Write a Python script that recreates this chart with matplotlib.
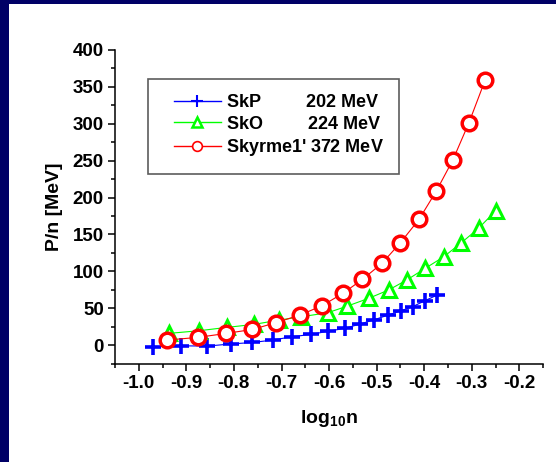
import matplotlib
matplotlib.use("Agg")
from matplotlib import pyplot as plt
from matplotlib.legend_handler import HandlerLine2D
from matplotlib.lines import Line2D
from matplotlib.patches import Rectangle
from matplotlib.ticker import MultipleLocator, FormatStrFormatter

plt.rcParams['font.family'] = ['Liberation Sans', 'DejaVu Sans']
plt.rcParams['font.weight'] = 'bold'
plt.rcParams['axes.unicode_minus'] = False
plt.rcParams['mathtext.fontset'] = 'custom'
plt.rcParams['mathtext.rm'] = 'Liberation Sans:bold'
plt.rcParams['mathtext.it'] = 'Liberation Sans:bold'
plt.rcParams['mathtext.bf'] = 'Liberation Sans:bold'
plt.rcParams['mathtext.default'] = 'regular'

# values
skp_x = [-0.970, -0.912, -0.856, -0.806, -0.761, -0.718, -0.678, -0.637, -0.602,
         -0.567, -0.535, -0.505, -0.476, -0.449, -0.424, -0.399, -0.373]
skp_y = [-2.3, -1.0, -1.4, 1.5, 3.5, 6.8, 11.3, 14.5, 18.8,
         22.6, 28.5, 34.3, 40.7, 46.5, 52.2, 60.0, 67.8]

sko_x = [-0.937, -0.874, -0.814, -0.758, -0.705, -0.658, -0.603, -0.563,
         -0.517, -0.475, -0.437, -0.398, -0.359, -0.322, -0.286, -0.250]
sko_y = [15.8, 19.4, 24.0, 28.0, 33.9, 38.4, 43.8, 52.5,
         63.3, 74.6, 88.1, 104.0, 119.7, 138.7, 158.2, 182.0]

sky_x = [-0.940, -0.876, -0.816, -0.761, -0.712, -0.661, -0.615, -0.571,
         -0.530, -0.489, -0.450, -0.411, -0.375, -0.340, -0.306, -0.272]
sky_y = [6.8, 10.4, 15.8, 21.2, 30.3, 40.7, 53.3, 70.1,
         89.0, 110.7, 138.8, 170.4, 208.4, 250.8, 301.5, 359.3]

names = ["SkP", "SkO", "Skyrme1'"]
moduli = ["202 MeV", "224 MeV", "372 MeV"]
gaps = ["         ", "         ", " "]
# trailing thin math spaces keep some room on the right of the legend box
labels = [n + g + m + r"$\;\;\;\;$" for n, g, m in zip(names, gaps, moduli)]

navy = "#000066"

fig = plt.figure(figsize=(5.56, 4.62), dpi=100, facecolor=navy)
# white page inside the navy frame (left and top edges only)
fig.patches.append(Rectangle((9 / 556, 0), 1, 1 - 4 / 462, transform=fig.transFigure,
                             facecolor="white", edgecolor="none", zorder=-10))

ax = fig.add_axes([0.2068, 0.2132, 0.7702, 0.6786])
ax.set_facecolor("white")

ax.plot(skp_x, skp_y, color="#0000ff", lw=0.8, marker="+", ms=11, mew=2.6)
ax.plot(sko_x, sko_y, color="#00ff00", lw=0.8, marker="^", ms=10.5, mew=2.2,
        mfc="white", mec="#00ff00")
ax.plot(sky_x, sky_y, color="#ff0000", lw=0.8, marker="o", ms=10.5, mew=2.5,
        mfc="white", mec="#ff0000")

ax.set_xlim(-1.05, -0.15)
ax.set_ylim(-25, 400)
ax.xaxis.set_major_locator(MultipleLocator(0.1))
ax.xaxis.set_minor_locator(MultipleLocator(0.05))
ax.yaxis.set_major_locator(MultipleLocator(50))
ax.yaxis.set_minor_locator(MultipleLocator(25))
ax.xaxis.set_major_formatter(FormatStrFormatter('%.1f'))

for side in ("top", "right"):
    ax.spines[side].set_visible(False)
for side in ("left", "bottom"):
    ax.spines[side].set_linewidth(1.1)

ax.tick_params(which="major", direction="out", length=5, width=1.1,
               labelsize=13.5, pad=3)
ax.tick_params(which="minor", direction="out", length=3, width=1.1)
for lab in ax.get_xticklabels() + ax.get_yticklabels():
    lab.set_fontweight("bold")

ax.set_xlabel("log$_{10}$n", fontsize=14, fontweight="bold", labelpad=12)
ax.set_ylabel("P/n [MeV]", fontsize=14, fontweight="bold", labelpad=7)

handles = [
    Line2D([], [], color="#0000ff", lw=1, marker="+", ms=8, mew=1.5),
    Line2D([], [], color="#00ff00", lw=1, marker="^", ms=7, mew=1.8,
           mfc="white", mec="#00ff00"),
    Line2D([], [], color="#ff0000", lw=1, marker="o", ms=7, mew=1.2,
           mfc="white", mec="#ff0000"),
]
hmap = {h: HandlerLine2D(xpad=0.6) for h in handles}
leg = ax.legend(handles, labels, loc="upper left", bbox_to_anchor=(0.076, 0.908),
                borderaxespad=0, fancybox=False, frameon=True, handlelength=3.2,
                handletextpad=0.3, labelspacing=0.25, borderpad=0.85,
                handler_map=hmap,
                prop={"family": "Liberation Sans", "weight": "bold", "size": 13})
leg.get_frame().set_edgecolor("#333333")
leg.get_frame().set_linewidth(1.2)

fig.savefig("out.png", dpi=100, facecolor=navy)
